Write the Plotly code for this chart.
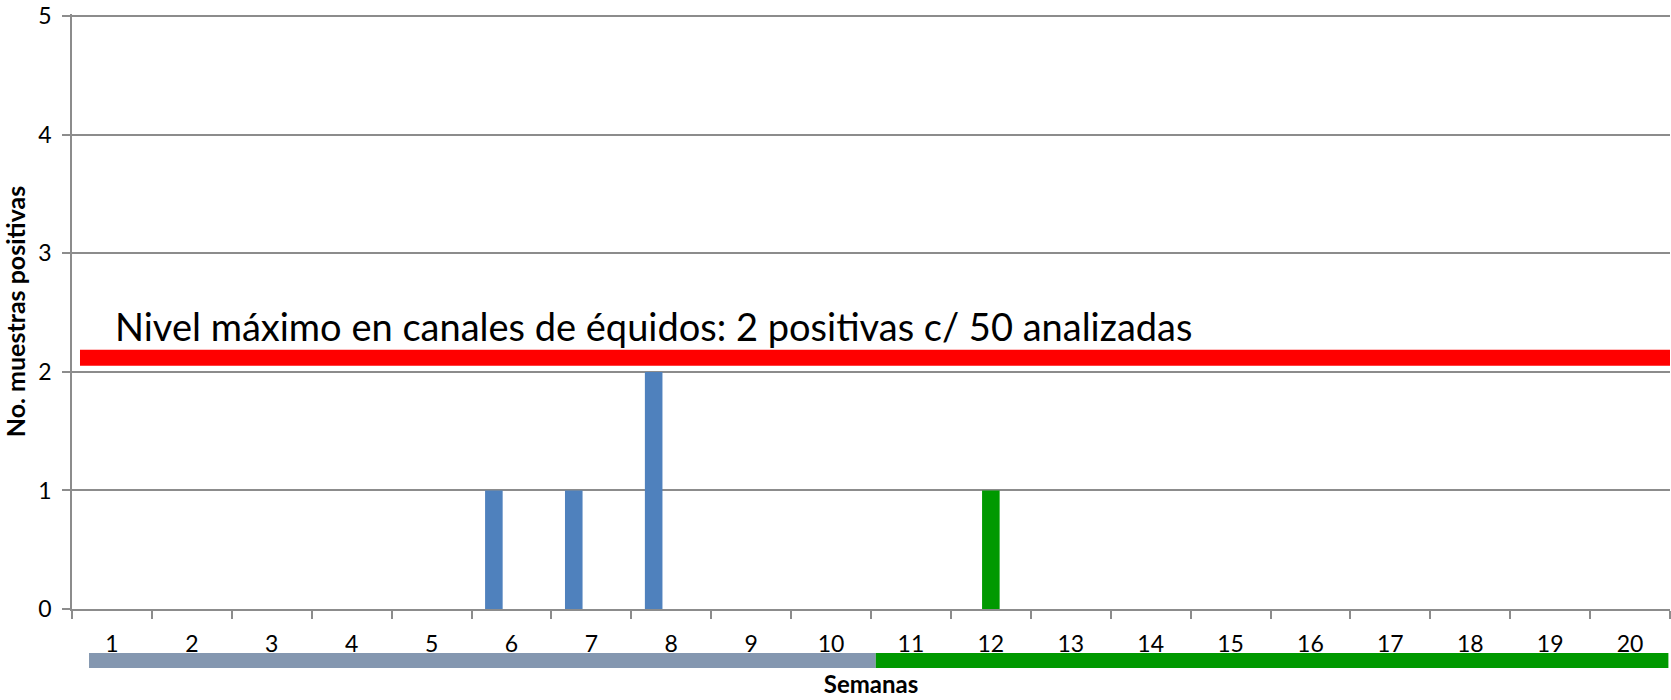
import plotly.graph_objects as go

# ---- data ----
weeks = list(range(1, 21))
week_labels = [str(w) for w in weeks]
series_a_weeks = [6, 7, 8]          # blue series
series_a_values = [1, 1, 2]
series_b_weeks = [12]               # green series
series_b_values = [1]
threshold_value = 2.12
threshold_text = "Nivel máximo en canales de équidos: 2 positivas c/ 50 analizadas"
period_starts = [1, 11]
period_ends = [10, 20]
period_colors = ["#8497B0", "#009900"]
y_ticks = [0, 1, 2, 3, 4, 5]

BLUE = "#4F81BD"
GREEN = "#009900"
GRID = "#8C8C8C"
FONT = "Lato, 'Open Sans', sans-serif"

fig = go.Figure()

fig.add_trace(go.Bar(
    x=series_a_weeks, y=series_a_values, width=0.22, offset=-0.33,
    marker=dict(color=BLUE, line=dict(width=0)), showlegend=False,
))
fig.add_trace(go.Bar(
    x=series_b_weeks, y=series_b_values, width=0.22, offset=-0.11,
    marker=dict(color=GREEN, line=dict(width=0)), showlegend=False,
))

# threshold line
fig.add_trace(go.Scatter(
    x=[weeks[0] - 0.4, weeks[-1] + 0.5], y=[threshold_value, threshold_value],
    mode="lines", line=dict(color="#FF0000", width=16), showlegend=False,
    hoverinfo="skip",
))

fig.add_annotation(
    x=weeks[0] + 0.01, y=2.385, xref="x", yref="y",
    text=threshold_text, showarrow=False, xanchor="left", yanchor="middle",
    font=dict(family=FONT, size=38, color="black"),
)

# period bars below the axis
for s, e, c in zip(period_starts, period_ends, period_colors):
    x0 = s - 0.5 + (0.213 if s == period_starts[0] else 0.06)
    x1 = e + 0.5 + (0.06 if e != period_ends[-1] else -0.02)
    fig.add_shape(
        type="line", xref="x", yref="paper", x0=x0, x1=x1, y0=-0.0867, y1=-0.0867,
        line=dict(color=c, width=15),
    )

fig.update_layout(
    width=1671, height=700,
    margin=dict(l=72, r=1, t=10, b=91),
    paper_bgcolor="white", plot_bgcolor="white",
    barmode="overlay",
    font=dict(family=FONT, size=22, color="black"),
    xaxis=dict(
        range=[0.5, 20.5], tickmode="array", tickvals=weeks, ticktext=week_labels,
        ticks="", showgrid=False, zeroline=False,
        showline=True, linecolor=GRID, linewidth=1.5,
        ticklabelstandoff=14,
        tickfont=dict(family=FONT, size=23, color="black"),
        minor=dict(tickmode="array", tickvals=[w + 0.5 for w in [0] + weeks],
                   ticks="outside", ticklen=8, tickcolor=GRID, tickwidth=1.5, showgrid=False),
        title=dict(text="<b>Semanas</b>", font=dict(family=FONT, size=24, color="black"), standoff=20),
        fixedrange=True,
    ),
    yaxis=dict(
        range=[0, 5.02], tickmode="array", tickvals=y_ticks,
        ticks="outside", ticklen=8, tickcolor=GRID, tickwidth=1.5,
        showgrid=True, gridcolor=GRID, gridwidth=1.5,
        zeroline=False, showline=True, linecolor=GRID, linewidth=1.5,
        tickfont=dict(family=FONT, size=23, color="black"),
        ticklabelstandoff=6, ticklabeloverflow="allow",
        title=dict(text="<b>No. muestras positivas</b>", font=dict(family=FONT, size=25, color="black"), standoff=10),
        fixedrange=True,
    ),
)

fig.write_html(
    "out.html",
    config={"displayModeBar": False},
    post_script="document.body.style.margin='0';document.body.style.overflow='hidden';",
)
